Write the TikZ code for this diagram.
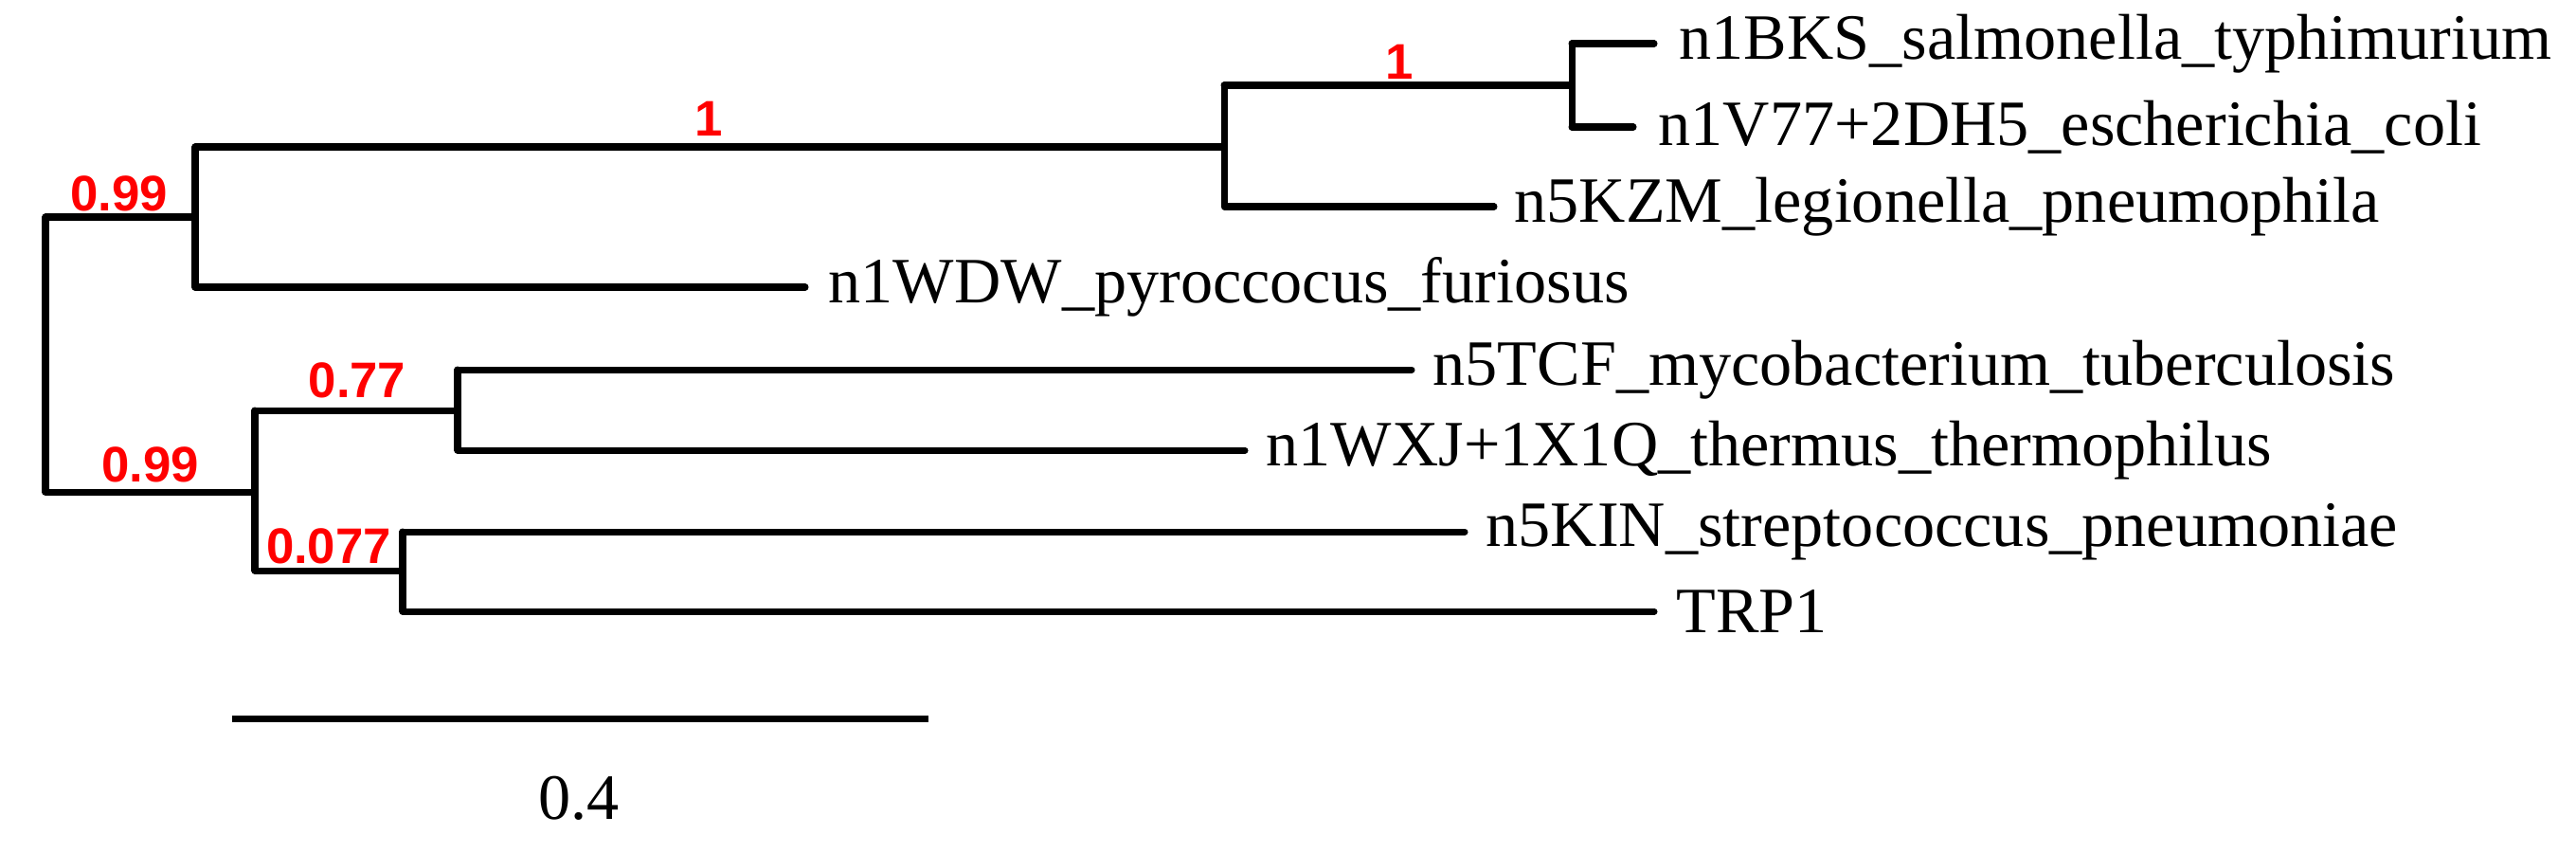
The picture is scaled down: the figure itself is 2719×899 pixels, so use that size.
\documentclass[tikz,border=0pt]{standalone}
\usepackage{fontspec}
\setmainfont{Liberation Serif}
\newfontfamily\lblfont{Liberation Sans}
\begin{document}
\begin{tikzpicture}[x=0.01cm,y=-0.01cm,
  br/.style={line width=2pt,line cap=round,line join=round},
  leaf/.style={anchor=west,inner sep=0pt,font=\fontsize{19.4}{22}\selectfont},
  sup/.style={text=red,inner sep=0pt,font=\lblfont\bfseries\fontsize{15}{17}\selectfont}]
\useasboundingbox (0,0) rectangle (2719,899);
% internal nodes
\coordinate (root) at (48,229);
\coordinate (A) at (206,229);
\coordinate (B) at (1292,155);
\coordinate (BB) at (1659,90);
\coordinate (C) at (269,519);
\coordinate (D) at (483,433);
\coordinate (E) at (425,602);
% leaves
\node[leaf] (l1) at (1772,46) {n1BKS\_salmonella\_typhimurium};
\node[leaf] (l2) at (1750,134) {n1V77+2DH5\_escherichia\_coli};
\node[leaf] (l3) at (1598,218) {n5KZM\_legionella\_pneumophila};
\node[leaf] (l4) at (874,303) {n1WDW\_pyroccocus\_furiosus};
\node[leaf] (l5) at (1512,390) {n5TCF\_mycobacterium\_tuberculosis};
\node[leaf] (l6) at (1336,475) {n1WXJ+1X1Q\_thermus\_thermophilus};
\node[leaf] (l7) at (1568,561) {n5KIN\_streptococcus\_pneumoniae};
\node[leaf] (l8) at (1769,645) {TRP1};
% branches
\draw[br] (root|-A) -- (A);
\draw[br] (A|-B) -- (B);
\draw[br] (A|-B) -- (A|-l4) -- ([xshift=-0.24cm]l4.west);
\draw[br] (root|-A) -- (root|-C) -- (C);
\draw[br] (B|-BB) -- (B|-l3) -- ([xshift=-0.21cm]l3.west);
\draw[br] (B|-BB) -- (BB);
\draw[br] (BB|-l1) -- (BB|-l2);
\draw[br] (BB|-l1) -- ([xshift=-0.26cm]l1.west);
\draw[br] (BB|-l2) -- ([xshift=-0.26cm]l2.west);
\draw[br] (C|-D) -- (C|-E);
\draw[br] (C|-D) -- (D);
\draw[br] (C|-E) -- (E);
\draw[br] (D|-l5) -- (D|-l6);
\draw[br] (D|-l5) -- ([xshift=-0.22cm]l5.west);
\draw[br] (D|-l6) -- ([xshift=-0.22cm]l6.west);
\draw[br] (E|-l7) -- (E|-l8);
\draw[br] (E|-l7) -- ([xshift=-0.22cm]l7.west);
\draw[br] (E|-l8) -- ([xshift=-0.23cm]l8.west);
% support values
\node[sup] (s1) at (748,125) {1};
\node[sup] (s2) at (1477,65) {1};
\node[sup] (s3) at (126,204) {0.99};
\node[sup] (s4) at (159,490) {0.99};
\node[sup] (s5) at (377,401) {0.77};
\node[sup] (s6) at (347,576) {0.077};
% scale bar
\coordinate (sb1) at (245,758);
\coordinate (sb2) at (980,758);
\draw[br,line cap=butt] (sb1) -- (sb2);
\node[inner sep=0pt,font=\fontsize{19.4}{22}\selectfont] (sbl) at (611,842) {0.4};
\end{tikzpicture}
\end{document}
